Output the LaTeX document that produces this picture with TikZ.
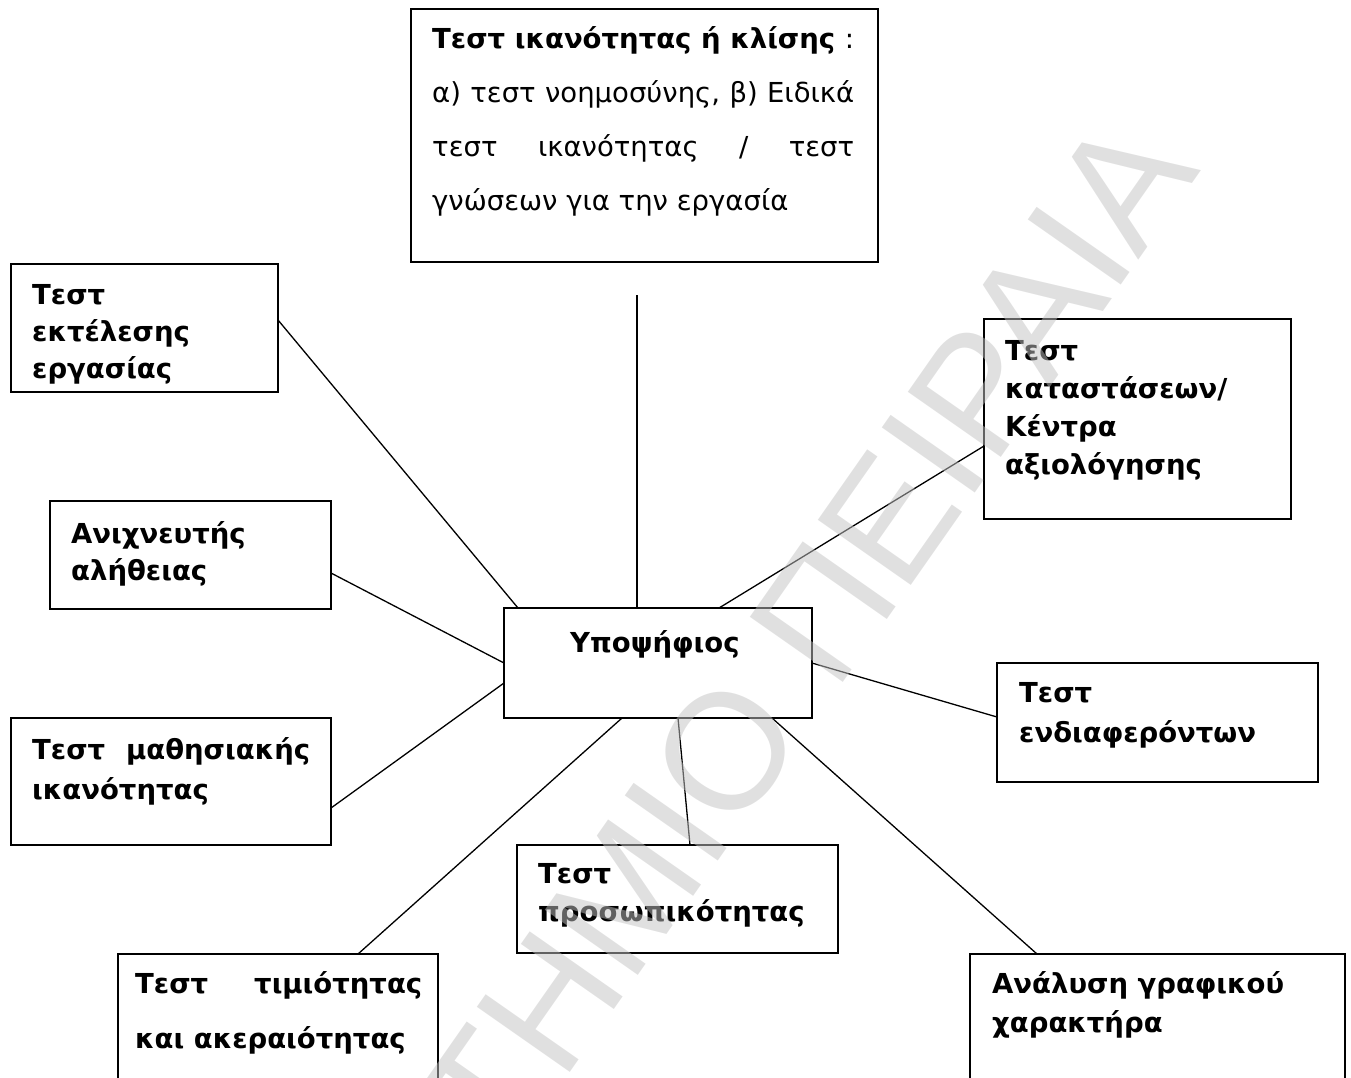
\documentclass[tikz,border=0pt]{standalone}
\usepackage{fontspec}
\setmainfont{DejaVu Sans}
\newfontfamily\sealfont{Liberation Sans}
\usepackage{tikz}
\usetikzlibrary{calc}

\begin{document}
\begin{tikzpicture}[
  x=1pt, y=-1pt,
  box/.style={draw, line width=2pt, inner sep=0pt, outer sep=0pt, anchor=north west},
  txt/.style={inner sep=0pt, anchor=base west, font=\fontsize{27.5}{#1}\selectfont\bfseries},
  txt/.default=38,
  link/.style={line width=1.3pt},
  seal/.style={inner sep=0pt, anchor=base east, rotate=55, text=black!24, text opacity=0.5,
               font=\sealfont\fontsize{165}{165}\selectfont},
]
\path[use as bounding box, clip] (0,0) rectangle (1351,1077);

% Centre: candidate
\node[box, minimum width=308pt, minimum height=110pt] (cand) at (504,608) {};
\node[txt] (cand-t) at (570,652) {Υποψήφιος};

% Top: ability / aptitude tests
\node[box, minimum width=467pt, minimum height=253pt] (abil) at (411,9) {};
\node[txt=54] (abil-t) at (432,48) {\parbox[t]{422pt}{%
  \makebox[422pt][s]{Τεστ ικανότητας ή κλίσης \textmd{:}}\\
  \mdseries\makebox[422pt][s]{α) τεστ νοημοσύνης, β) Ειδικά}\\
  \makebox[422pt][s]{τεστ ικανότητας / τεστ}\\
  γνώσεων για την εργασία}};

% Left column
\node[box, minimum width=267pt, minimum height=128pt] (perf) at (11,264) {};
\node[txt=37] (perf-t) at (32,304) {\parbox[t]{240pt}{Τεστ\\εκτέλεσης\\εργασίας}};

\node[box, minimum width=281pt, minimum height=108pt] (lie) at (50,501) {};
\node[txt=37] (lie-t) at (71,543) {\parbox[t]{250pt}{Ανιχνευτής\\αλήθειας}};

\node[box, minimum width=320pt, minimum height=127pt] (learn) at (11,718) {};
\node[txt=40] (learn-t) at (32,759) {\parbox[t]{278pt}{\makebox[278pt][s]{Τεστ μαθησιακής}\\ικανότητας}};

% Right column
\node[box, minimum width=307pt, minimum height=200pt] (sit) at (984,319) {};
\node[txt=38] (sit-t) at (1005,360) {\parbox[t]{280pt}{Τεστ\\καταστάσεων/\\Κέντρα\\αξιολόγησης}};

\node[box, minimum width=321pt, minimum height=119pt] (inter) at (997,663) {};
\node[txt=40] (inter-t) at (1019,702) {\parbox[t]{290pt}{Τεστ\\ενδιαφερόντων}};

% Bottom row
\node[box, minimum width=321pt, minimum height=108pt] (pers) at (517,845) {};
\node[txt=38] (pers-t) at (538,883) {\parbox[t]{290pt}{Τεστ\\προσωπικότητας}};

\node[box, minimum width=320pt, minimum height=160pt] (honest) at (118,954) {};
\node[txt=55] (honest-t) at (135,993) {\parbox[t]{287pt}{\makebox[287pt][s]{Τεστ τιμιότητας}\\και ακεραιότητας}};

\node[box, minimum width=375pt, minimum height=160pt] (graph) at (970,954) {};
\node[txt=39] (graph-t) at (992,993) {\parbox[t]{340pt}{Ανάλυση γραφικού\\χαρακτήρα}};

% Edges
\coordinate (abil-end) at (637,295);
\draw[link] (abil-end) -- (abil-end |- cand.north);
\draw[link] ($(perf.north east)+(0,56)$) -- ($(cand.north west)+(14,0)$);
\draw[link] ($(lie.north east)+(0,72)$) -- ($(cand.north west)+(0,55)$);
\draw[link] ($(learn.north east)+(0,90)$) -- ($(cand.north west)+(0,75)$);
\draw[link] ($(cand.north west)+(215,0)$) -- ($(sit.north west)+(0,127)$);
\draw[link] ($(cand.north east)+(0,55)$) -- ($(inter.north west)+(0,54)$);
\draw[link] ($(cand.south west)+(118,0)$) -- ($(honest.north west)+(240,0)$);
\draw[link] ($(cand.south west)+(174,0)$) -- ($(pers.north west)+(173,0)$);
\draw[link] ($(cand.south west)+(268,0)$) -- ($(graph.north west)+(67,0)$);

% Watermark
\node[seal] (stamp) at (1202,170) {ΠΑΝΕΠΙΣΤΗΜΙΟ ΠΕΙΡΑΙΑ};
\end{tikzpicture}
\end{document}
